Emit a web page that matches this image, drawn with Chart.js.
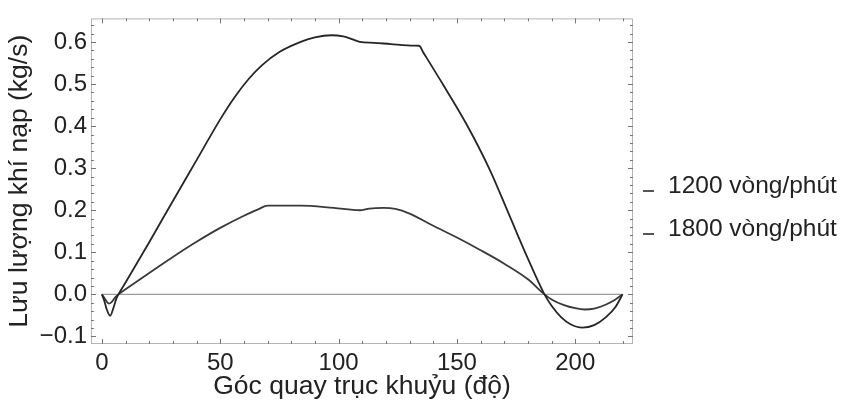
<!DOCTYPE html>
<html>
<head>
<meta charset="utf-8">
<script src="https://cdn.jsdelivr.net/npm/chart.js@4.4.1/dist/chart.umd.min.js"></script>
<style>
  html, body { margin: 0; padding: 0; background: #fff; }
  #wrap { position: relative; width: 843px; height: 408px; }
  #legend { position: absolute; left: 640px; top: 170px; font-family: "Liberation Sans", Arial, sans-serif; font-size: 24.5px; color: #222; }
  .item { height: 43px; line-height: 30px; white-space: nowrap; }
  .dash { display: inline-block; width: 11px; height: 2px; background: #555; vertical-align: middle; margin: 0 14px 0 3px; position: relative; top: 4px; }
</style>
</head>
<body>
<div id="wrap">
  <canvas id="flow-chart" width="843" height="408"></canvas>
  <div id="legend"></div>
</div>
<script>
// Crank angle (deg) and intake air flow (kg/s)
const angle1200 = [0, 1, 2, 3.5, 5, 6, 7, 10, 20, 30, 40, 50, 56, 62, 67.7, 75, 84, 90, 97, 102, 106, 109, 115, 122, 132, 134, 136, 144, 154, 164, 172, 180, 187, 190, 194, 198, 203, 208, 213, 217, 220];
const flow1200 = [0, -0.015, -0.035, -0.051, -0.03, -0.012, 0.0, 0.028, 0.124, 0.222, 0.319, 0.416, 0.468, 0.512, 0.545, 0.576, 0.6, 0.611, 0.616, 0.613, 0.606, 0.6, 0.598, 0.595, 0.5915, 0.591, 0.573, 0.5, 0.405, 0.295, 0.19, 0.085, 0, -0.027, -0.054, -0.071, -0.079, -0.073, -0.054, -0.03, 0];

const angle1800 = [0, 1, 2, 3, 4, 5, 6, 7, 10, 20, 30, 40, 50, 60, 66, 70, 84, 98, 109, 113, 119, 124, 130, 140, 150, 160, 170, 180, 187, 190, 195, 200, 204, 208, 213, 217, 220];
const flow1800 = [0, -0.008, -0.017, -0.022, -0.019, -0.012, -0.005, 0, 0.012, 0.051, 0.089, 0.125, 0.158, 0.187, 0.202, 0.211, 0.211, 0.2055, 0.2, 0.204, 0.2055, 0.203, 0.192, 0.163, 0.135, 0.105, 0.073, 0.036, 0, -0.012, -0.025, -0.033, -0.036, -0.034, -0.024, -0.012, 0];

const zeroX = [0, 220];
const zeroY = [0, 0];

const xTicks = [0, 50, 100, 150, 200];
const yTicks = [-0.1, 0, 0.1, 0.2, 0.3, 0.4, 0.5, 0.6];

const seriesLabels = ["1200 vòng/phút", "1800 vòng/phút"];

function toPoints(xs, ys) {
  return xs.map((x, i) => ({ x: x, y: ys[i] }));
}

Chart.defaults.font.family = "'Liberation Sans', Arial, sans-serif";
Chart.defaults.color = "#222";

// Frame with inward major/minor ticks on all four sides (Mathematica style)
const framePlugin = {
  id: "frame",
  afterDraw(chart) {
    const { ctx, chartArea: a, scales } = chart;
    const xs = scales.x, ys = scales.y;
    ctx.save();
    ctx.strokeStyle = "#b5b5b5";
    ctx.lineWidth = 1;
    ctx.strokeRect(a.left + 0.5, a.top + 0.5, a.right - a.left - 1, a.bottom - a.top - 1);
    ctx.strokeStyle = "#777";
    for (let v = 0; v <= 220; v += 10) {
      const px = Math.round(xs.getPixelForValue(v)) + 0.5;
      const len = v % 50 === 0 ? 5 : 3;
      ctx.beginPath();
      ctx.moveTo(px, a.bottom); ctx.lineTo(px, a.bottom - len);
      ctx.moveTo(px, a.top); ctx.lineTo(px, a.top + len);
      ctx.stroke();
    }
    for (let k = -5; k <= 32; k++) {
      const v = k * 0.02;
      const py = Math.round(ys.getPixelForValue(v)) + 0.5;
      if (py < a.top || py > a.bottom) continue;
      const len = k % 5 === 0 ? 5 : 3;
      ctx.beginPath();
      ctx.moveTo(a.left, py); ctx.lineTo(a.left + len, py);
      ctx.moveTo(a.right, py); ctx.lineTo(a.right - len, py);
      ctx.stroke();
    }
    ctx.restore();
  },
};

const ctx = document.getElementById("flow-chart").getContext("2d");
const flowChart = new Chart(ctx, {
  type: "line",
  data: {
    datasets: [
      {
        label: seriesLabels[0],
        data: toPoints(angle1200, flow1200),
        borderColor: "#262626",
        borderWidth: 1.8,
        pointRadius: 0,
        cubicInterpolationMode: "monotone",
      },
      {
        label: seriesLabels[1],
        data: toPoints(angle1800, flow1800),
        borderColor: "#3a3a3a",
        borderWidth: 1.8,
        pointRadius: 0,
        cubicInterpolationMode: "monotone",
      },
      {
        label: "zero",
        data: toPoints(zeroX, zeroY),
        borderColor: "#9a9a9a",
        borderWidth: 1.2,
        pointRadius: 0,
      },
    ],
  },
  options: {
    responsive: false,
    animation: false,
    layout: { padding: { top: 7, right: 210, bottom: 0, left: 0 } },
    plugins: { legend: { display: false }, tooltip: { enabled: false } },
    scales: {
      x: {
        type: "linear",
        min: -4.6,
        max: 224.4,
        afterBuildTicks: (s) => { s.ticks = xTicks.map((v) => ({ value: v })); },
        afterFit: (s) => { s.height = 64; },
        grid: { display: false, drawTicks: false },
        border: { display: false },
        ticks: { font: { size: 24 }, padding: 5, color: "#222", maxRotation: 0 },
        title: { display: true, text: "Góc quay trục khuỷu (độ)", font: { size: 26.5 }, color: "#222", padding: { top: 0, bottom: 5 } },
      },
      y: {
        type: "linear",
        min: -0.118,
        max: 0.656,
        afterBuildTicks: (s) => { s.ticks = yTicks.map((v) => ({ value: v })); },
        afterFit: (s) => { s.width = 91; },
        grid: { display: false, drawTicks: false },
        border: { display: false },
        ticks: {
          font: { size: 24 },
          padding: 4,
          color: "#222",
          callback: (v) => (v < 0 ? "\u2212" + Math.abs(v).toFixed(1) : v.toFixed(1)),
        },
        title: { display: true, text: "Lưu lượng khí nạp (kg/s)", font: { size: 26.5 }, color: "#222", padding: { top: 4, bottom: 0 } },
      },
    },
  },
  plugins: [framePlugin],
});

// Legend
const legendBox = document.getElementById("legend");
seriesLabels.forEach((name) => {
  const row = document.createElement("div");
  row.className = "item";
  row.innerHTML = `<span class="dash"></span>${name}`;
  legendBox.appendChild(row);
});
</script>
</body>
</html>
